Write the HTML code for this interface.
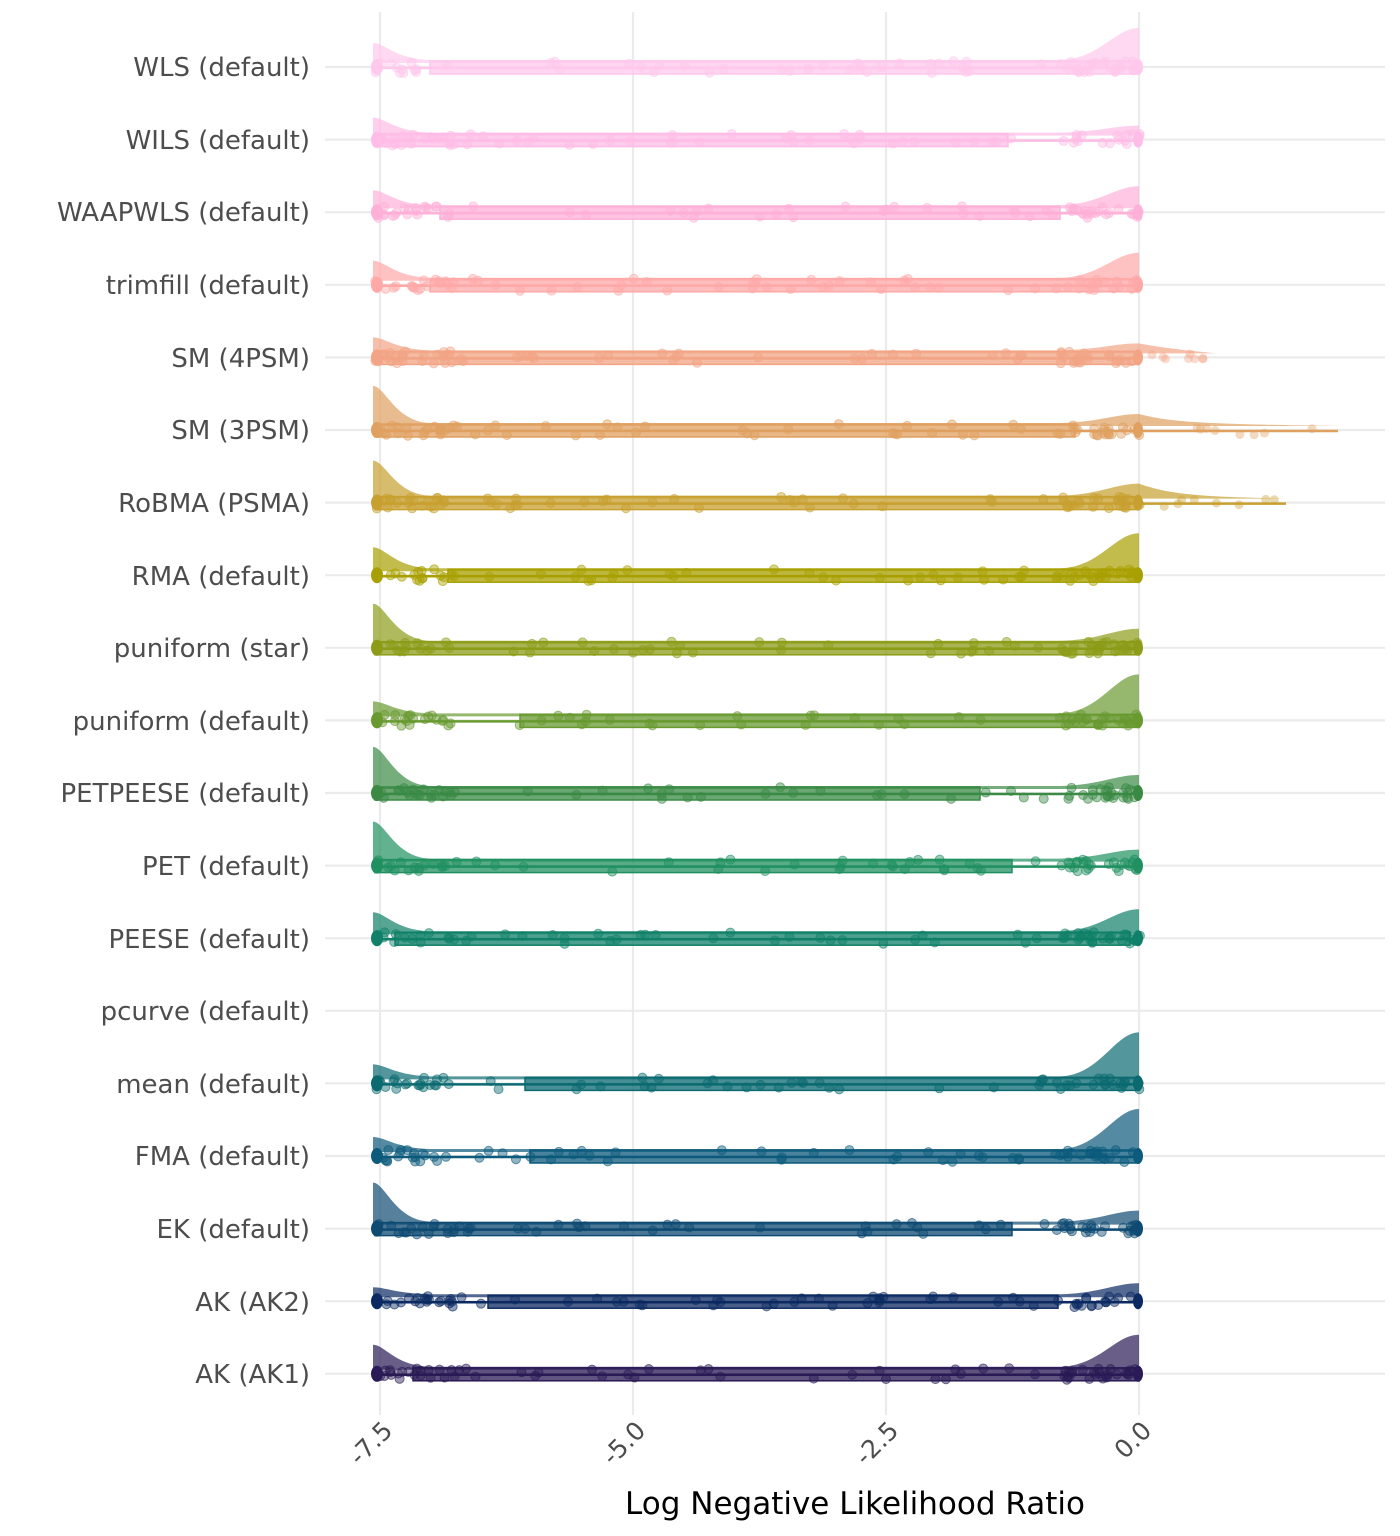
<!DOCTYPE html>
<html><head><meta charset="utf-8"><style>
html,body{margin:0;padding:0;background:#fff}
svg{display:block}
text{font-family:"DejaVu Sans","Liberation Sans",sans-serif}
</style></head><body>
<svg id="s" width="1400" height="1536" viewBox="0 0 1400 1536" xmlns="http://www.w3.org/2000/svg">
<g id="grid" stroke="#ebebeb" stroke-width="2.2" fill="none">
<line x1="380" y1="12" x2="380" y2="1415"/>
<line x1="633" y1="12" x2="633" y2="1415"/>
<line x1="886" y1="12" x2="886" y2="1415"/>
<line x1="1139" y1="12" x2="1139" y2="1415"/>
</g>
<g id="hg" stroke="#ebebeb" stroke-width="2.2"></g>
<g id="data"></g>
<g font-size="26" fill="#4d4d4d" text-anchor="end">
<text x="310" y="76">WLS (default)</text>
<text x="310" y="149">WILS (default)</text>
<text x="310" y="221">WAAPWLS (default)</text>
<text x="310" y="294">trimfill (default)</text>
<text x="310" y="367">SM (4PSM)</text>
<text x="310" y="439">SM (3PSM)</text>
<text x="310" y="512">RoBMA (PSMA)</text>
<text x="310" y="585">RMA (default)</text>
<text x="310" y="657">puniform (star)</text>
<text x="310" y="730">puniform (default)</text>
<text x="310" y="802">PETPEESE (default)</text>
<text x="310" y="875">PET (default)</text>
<text x="310" y="948">PEESE (default)</text>
<text x="310" y="1020">pcurve (default)</text>
<text x="310" y="1093">mean (default)</text>
<text x="310" y="1165">FMA (default)</text>
<text x="310" y="1238">EK (default)</text>
<text x="310" y="1311">AK (AK2)</text>
<text x="310" y="1383">AK (AK1)</text>
</g>
<g font-size="25" fill="#4d4d4d" text-anchor="end">
<text transform="translate(394,1432) rotate(-45)">-7.5</text>
<text transform="translate(647,1432) rotate(-45)">-5.0</text>
<text transform="translate(900,1432) rotate(-45)">-2.5</text>
<text transform="translate(1153,1432) rotate(-45)">0.0</text>
</g>
<text x="855" y="1514" font-size="31" text-anchor="middle" fill="#000">Log Negative Likelihood Ratio</text>
</svg>
<script>
var rows=[
["#ffc8ec",430,1139,20,35,1139,0],
["#ffbce6",378,1008,18,10,1139,0],
["#ffb0d8",440,1060,18,22,1139,0],
["#ffa8a8",430,1139,20,28,1139,0],
["#f2a484",375,1139,16,10,1215,0],
["#e0a060",375,1075,40,12,1338,1338],
["#c8a030",375,1139,38,15,1286,1286],
["#a8a000",448,1139,24,38,1139,0],
["#8c9c18",375,1139,40,15,1139,0],
["#689a30",520,1139,15,42,1139,0],
["#3a8a44",375,980,42,14,1139,0],
["#209060",375,1012,40,12,1139,0],
["#108068",395,1130,22,25,1139,0],
null,
["#0a6a70",525,1139,15,47,1139,0],
["#0c5a7c",530,1139,15,43,1139,0],
["#0e4a72",375,1012,42,14,1139,0],
["#0c2a62",488,1058,10,14,1139,0],
["#2a1a55",413,1139,25,35,1139,0]];
var ns="http://www.w3.org/2000/svg",d=document.getElementById("data"),hg=document.getElementById("hg");
function el(t,a,p){var e=document.createElementNS(ns,t);for(var k in a)e.setAttribute(k,a[k]);(p||d).appendChild(e);return e}
var seed=7;function r(){seed=(seed*16807)%2147483647;return seed/2147483647}
for(var i=0;i<19;i++){
 var y=67+i*72.6;
 el("line",{x1:325,y1:y,x2:1385,y2:y},hg);
 var R=rows[i];if(!R)continue;
 var c=R[0],b1=R[1],b2=R[2],hL=R[3],hR=R[4],xe=R[5],wx=R[6];
 var base=y-4;
 var pth="M373,"+base+" L373,"+(base-hL)+" C385,"+(base-hL)+" 395,"+(base-4)+" 430,"+(base-3)+" L1060,"+(base-3)+" C1100,"+(base-4)+" 1115,"+(base-hR)+" 1139,"+(base-hR)+" L1139,"+base+" Z";
 if(xe>1139)pth="M373,"+base+" L373,"+(base-hL)+" C385,"+(base-hL)+" 395,"+(base-4)+" 430,"+(base-3)+" L1060,"+(base-3)+" C1100,"+(base-4)+" 1115,"+(base-hR)+" 1139,"+(base-hR)+" C1170,"+(base-4)+" 1200,"+(base-2)+" "+xe+","+base+" Z";
 el("path",{d:pth,fill:c,"fill-opacity":0.7});
 el("line",{x1:375,y1:y+1,x2:wx||1139,y2:y+1,stroke:c,"stroke-width":2.5});
 el("rect",{x:b1,y:y-6,width:b2-b1,height:13,fill:c,"fill-opacity":0.75,stroke:c,"stroke-width":1.5});
 for(var k=0;k<70;k++){var x=375+r()*764;if(r()<0.3)x=375+r()*80;if(r()<0.3)x=1060+r()*80;
  el("circle",{cx:x,cy:y+(r()-0.5)*12,r:4.5,fill:c,"fill-opacity":0.45,stroke:c,"stroke-opacity":0.6});}
 if(xe>1139)for(var k=0;k<8;k++)el("circle",{cx:1139+r()*(xe-1139),cy:y+(r()-0.5)*10,r:4.5,fill:c,"fill-opacity":0.4});
 el("ellipse",{cx:377,cy:y,rx:6,ry:8,fill:c});el("ellipse",{cx:1138,cy:y,rx:5,ry:8,fill:c});
}
</script>
</body></html>
